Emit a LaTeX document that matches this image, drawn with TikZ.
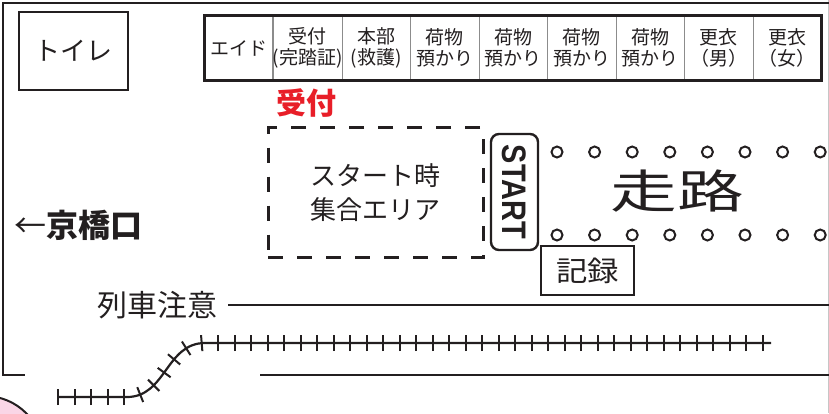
\documentclass[tikz,border=0pt]{standalone}
\usepackage{graphicx}
\usepackage{fontspec}
\setmainfont{Noto Sans CJK JP}
\newfontfamily\latinfont{Liberation Sans}
\usetikzlibrary{positioning,decorations.markings}
\definecolor{ink}{RGB}{35,31,32}
\definecolor{cellline}{RGB}{140,140,140}
\definecolor{signred}{RGB}{232,30,40}
\definecolor{cornerpink}{RGB}{250,214,230}
\newcommand{\fs}[1]{\fontsize{#1}{#1}\selectfont}

\begin{document}
\begin{tikzpicture}[
            x = 1pt, y = -1pt,
            color = ink, line width = 2pt,
            every node/.style = {inner sep = 0pt, text = ink},
            room/.style = {draw, line width = 1.8pt},
            cell/.style = {draw = cellline, line width = 0.8pt, minimum width = 68.5pt,
                           minimum height = 64pt, align = center,
                           font = \fontsize{19}{21}\selectfont},
            gather/.style = {draw, line width = 3pt, dash pattern = on 15pt off 14pt,
                             minimum width = 215pt, minimum height = 130pt, align = center,
                             font = \fontsize{26}{34}\selectfont},
            startbox/.style = {draw, line width = 2.4pt, rounded corners = 8pt,
                               minimum width = 116pt, minimum height = 47pt, rotate = -90},
            post/.style = {circle, draw, line width = 2pt, minimum size = 11pt},
            rail/.style = {line width = 2.2pt, postaction = {decorate},
                           decoration = {markings, mark = between positions 1pt and -7pt
                           step 16.5pt with {\draw[line width = 2pt] (0pt,-8pt) -- (0pt,8pt);}}}
            ]
            \useasboundingbox (0,0) rectangle (829,413);
            \begin{scope}
              \clip (0,0) rectangle (829,413);
              \filldraw[fill = cornerpink] (-15,454) circle [radius = 58pt];
            \end{scope}
            \draw[gray!45, line width = 1pt] (828,0) -- (828,413);
            \draw (829,3) -- (3,3) -- (3,375) -- (25,375);

            \node[room, minimum width = 109pt, minimum height = 78pt, font = \fs{26}]
                 (toilet) at (73.5,51) {トイレ};
            \foreach \txt [count = \i from 0] in {エイド, 受付\\(完踏証), 本部\\(救護),
                     荷物\\預かり, 荷物\\預かり, 荷物\\預かり, 荷物\\預かり,
                     更衣\\（男）, 更衣\\（女）}
              \node[cell] (cell\i) at (239.25+68.5*\i,48) {\txt};
            \draw[line width = 3pt] (cell0.north west) rectangle (cell8.south east);

            \node[font = \fs{30}\bfseries, text = signred] (reception) at (306,103) {受付};
            \node[gather] (gather) at (375.5,192.5) {スタート時\\集合エリア};
            \node[startbox] (start) at (514.5,192)
                 {\latinfont\bfseries\fs{34}\scalebox{0.85}[1]{START}};
            \foreach \i in {0,...,7} {
              \node[post] (up\i) at (557+37.6*\i,152) {};
              \node[post] (down\i) at (557+37.6*\i,235) {};
            }
            \node[font = \fs{46}] (course) at (677,191) {\scalebox{1.45}[1]{走路}};
            \node[room, minimum width = 93pt, minimum height = 49pt, font = \fs{28}]
                 (record) at (587.5,270.5) {\scalebox{1.12}[1]{記録}};

            \node[font = \fs{32}, anchor = west] (exit) at (13,225) {←{\bfseries 京橋口}};
            \node[font = \fs{30}, anchor = west] (caution) at (96,305) {列車注意};
            \coordinate (cautionend) at (829,304);
            \draw[shorten <= 10pt] (caution.east) -- (caution.east -| cautionend);
            \coordinate (lowstart) at (260,375);
            \coordinate (lowend) at (829,375);
            \draw (lowstart) -- (lowend);
            \draw[rail] (57,397) -- (127,397) .. controls (166,397) and (166,343) .. (205,343)
                 -- (771,343);
          \end{tikzpicture}
\end{document}
